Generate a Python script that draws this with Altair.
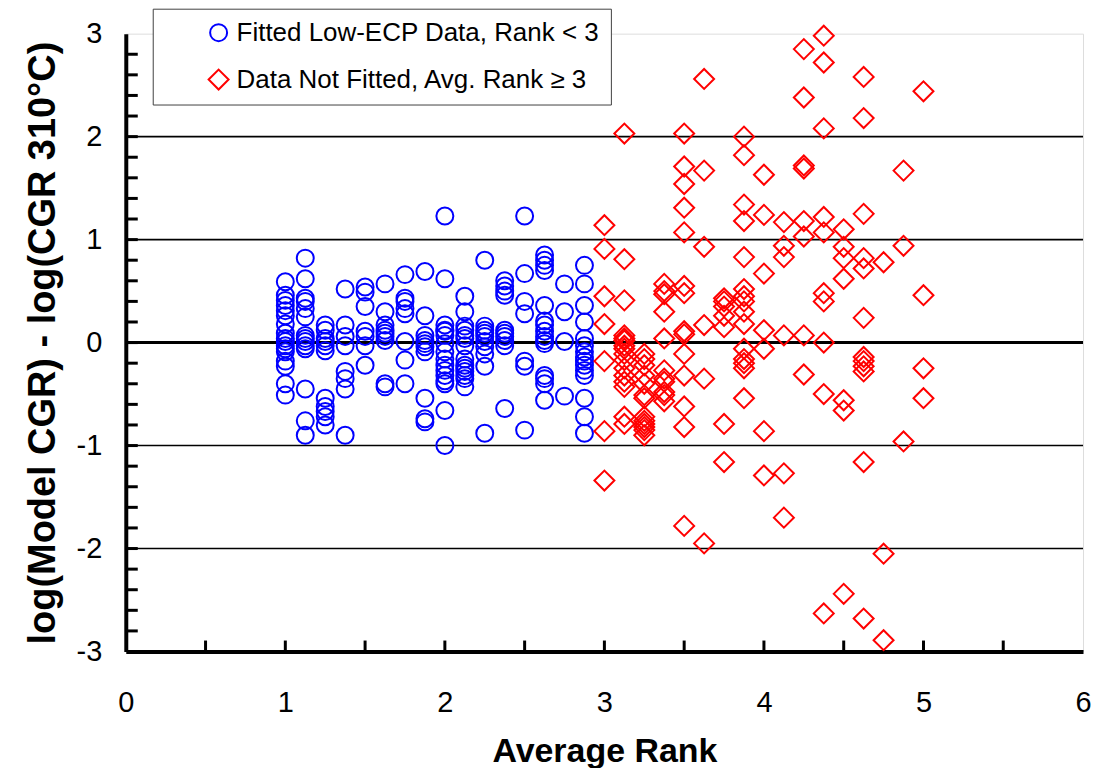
import altair as alt
import pandas as pd

# ---- data ----
blue_ranks = [1.0, 1.125, 1.25, 1.375, 1.5, 1.625, 1.75, 1.875, 2.0, 2.125, 2.25, 2.375, 2.5, 2.625, 2.75, 2.875]
blue_devs = [
    [0.59, 0.46, 0.41, 0.36, 0.31, 0.26, 0.18, 0.09, 0.04, 0.01, -0.03, -0.06, -0.09, -0.18, -0.23, -0.40, -0.51],
    [0.82, 0.62, 0.43, 0.40, 0.33, 0.25, 0.07, 0.04, 0.01, -0.03, -0.06, -0.45, -0.76, -0.90],
    [0.17, 0.12, 0.04, 0.01, -0.03, -0.08, -0.54, -0.62, -0.67, -0.72, -0.80],
    [0.52, 0.17, 0.06, -0.03, -0.28, -0.35, -0.45, -0.90],
    [0.54, 0.49, 0.35, 0.11, 0.06, -0.03, -0.22],
    [0.57, 0.30, 0.17, 0.12, 0.09, 0.06, 0.02, -0.40, -0.43],
    [0.66, 0.43, 0.40, 0.33, 0.28, 0.01, -0.17, -0.40],
    [0.69, 0.26, 0.07, 0.02, -0.01, -0.04, -0.09, -0.54, -0.74, -0.77],
    [1.23, 0.62, 0.17, 0.12, 0.11, 0.07, -0.01, -0.09, -0.16, -0.22, -0.27, -0.32, -0.37, -0.40, -0.66, -1.00],
    [0.45, 0.30, 0.16, 0.12, 0.07, 0.04, -0.03, -0.16, -0.22, -0.25, -0.28, -0.32, -0.35, -0.43],
    [0.80, 0.16, 0.12, 0.09, 0.06, 0.01, -0.04, -0.11, -0.23, -0.88],
    [0.60, 0.55, 0.50, 0.46, 0.12, 0.09, 0.06, 0.02, -0.03, -0.64],
    [1.23, 0.67, 0.40, 0.28, -0.18, -0.23, -0.85],
    [0.85, 0.80, 0.75, 0.70, 0.36, 0.21, 0.17, 0.11, 0.06, 0.02, -0.01, -0.32, -0.35, -0.40, -0.56],
    [0.57, 0.30, 0.01, -0.52],
    [0.75, 0.57, 0.36, 0.20, 0.04, -0.03, -0.09, -0.14, -0.18, -0.22, -0.27, -0.32, -0.54, -0.72, -0.88],
]

red_ranks = [3.0, 3.125, 3.25, 3.375, 3.5, 3.625, 3.75, 3.875, 4.0, 4.125, 4.25, 4.375, 4.5, 4.625, 4.75, 4.875, 5.0]
red_devs = [
    [1.14, 0.91, 0.45, 0.18, -0.18, -0.86, -1.34],
    [2.03, 0.81, 0.41, 0.07, 0.04, 0.02, -0.03, -0.06, -0.11, -0.17, -0.25, -0.32, -0.38, -0.43, -0.72, -0.79],
    [-0.11, -0.16, -0.22, -0.32, -0.40, -0.51, -0.54, -0.72, -0.76, -0.79, -0.82, -0.85, -0.90],
    [0.57, 0.50, 0.47, 0.30, 0.04, -0.27, -0.35, -0.38, -0.48, -0.51, -0.57],
    [2.03, 1.71, 1.54, 1.31, 1.07, 0.55, 0.48, 0.11, 0.08, -0.11, -0.32, -0.62, -0.82, -1.78],
    [2.56, 1.67, 0.93, 0.17, -0.35, -1.95],
    [0.43, 0.40, 0.35, 0.26, 0.15, -0.79, -1.16],
    [2.00, 1.82, 1.34, 1.18, 0.83, 0.52, 0.45, 0.40, 0.30, 0.18, -0.06, -0.16, -0.20, -0.25, -0.54],
    [1.63, 1.24, 0.67, 0.12, -0.06, -0.86, -1.29],
    [1.17, 0.94, 0.83, 0.07, -1.27, -1.70],
    [2.85, 2.38, 1.72, 1.69, 1.18, 1.03, 0.07, -0.31],
    [2.98, 2.72, 2.08, 1.22, 1.07, 0.48, 0.40, 0.00, -0.50, -2.63],
    [1.10, 0.93, 0.82, 0.62, -0.56, -0.66, -2.44],
    [2.58, 2.18, 1.25, 0.82, 0.72, 0.24, -0.14, -0.18, -0.23, -0.28, -1.16, -2.68],
    [0.78, -2.05, -2.89],
    [1.67, 0.94, -0.96],
    [2.44, 0.46, -0.25, -0.54],
]

series_names = ["Fitted Low-ECP Data, Rank < 3", "Data Not Fitted, Avg. Rank \u2265 3"]
x_labels = [0, 1, 2, 3, 4, 5, 6]
y_labels = [-3, -2, -1, 0, 1, 2, 3]
x_minor = [0.5, 1, 1.5, 2, 2.5, 3, 3.5, 4, 4.5, 5, 5.5]
y_minor = [round(-2.8 + 0.2 * i, 1) for i in range(29)]
grid_lines = [-2, -1, 1, 2]

rows = []
for r, devs in zip(blue_ranks, blue_devs):
    for d in devs:
        rows.append({"rank": r, "dev": d, "series": series_names[0]})
for r, devs in zip(red_ranks, red_devs):
    for d in devs:
        rows.append({"rank": r, "dev": d, "series": series_names[1]})
df = pd.DataFrame(rows)

W, H = 959, 619
FONT = "Liberation Sans, Arial, sans-serif"

xscale = alt.Scale(domain=[0, 6], nice=False, zero=False)
yscale = alt.Scale(domain=[-3, 3], nice=False, zero=False)

lab = "toString(round(datum.value))"

grid = alt.Chart(pd.DataFrame({"g": grid_lines})).mark_rule(color="black", strokeWidth=1.6).encode(
    y=alt.Y("g:Q", scale=yscale)
)
zero = alt.Chart(pd.DataFrame({"g": [0]})).mark_rule(color="black", strokeWidth=3).encode(
    y=alt.Y("g:Q", scale=yscale)
)
xticks = alt.Chart(pd.DataFrame({"t": x_minor})).mark_rule(color="black", strokeWidth=3).encode(
    x=alt.X("t:Q", scale=xscale),
    y=alt.value(H),
    y2=alt.value(H - 11),
)
yticks = alt.Chart(pd.DataFrame({"t": y_minor})).mark_rule(color="black", strokeWidth=3).encode(
    y=alt.Y("t:Q", scale=yscale),
    x=alt.value(0),
    x2=alt.value(12),
)

points = alt.Chart(df).mark_point(filled=False, strokeWidth=2, opacity=1).encode(
    x=alt.X(
        "rank:Q",
        scale=xscale,
        title="Average Rank",
        axis=alt.Axis(
            values=x_labels,
            labelExpr=lab,
            labelFlush=False,
            labelOverlap=False,
            ticks=False,
            grid=False,
            domainColor="black",
            domainWidth=4,
            labelFontSize=29,
            labelFont=FONT,
            labelColor="black",
            labelPadding=37,
            titleFont=FONT,
            titleFontSize=34,
            titleFontWeight="bold",
            titleColor="black",
            titlePadding=17,
        ),
    ),
    y=alt.Y(
        "dev:Q",
        scale=yscale,
        title="log(Model CGR) - log(CGR 310\u00b0C)",
        axis=alt.Axis(
            values=y_labels,
            labelExpr=lab,
            labelFlush=False,
            labelOverlap=False,
            ticks=False,
            grid=False,
            domainColor="black",
            domainWidth=4,
            labelFontSize=29,
            labelFont=FONT,
            labelColor="black",
            labelPadding=24,
            titleFont=FONT,
            titleFontSize=38,
            titleFontWeight="bold",
            titleColor="black",
            titlePadding=14,
        ),
    ),
    color=alt.Color(
        "series:N",
        scale=alt.Scale(domain=series_names, range=["#0000FF", "#FF0000"]),
        legend=alt.Legend(
            title=None,
            orient="none",
            legendX=27,
            legendY=-25,
            direction="vertical",
            labelFont=FONT,
            labelFontSize=26,
            labelColor="black",
            labelOffset=5,
            labelLimit=600,
            symbolOffset=42,
            symbolStrokeWidth=2,
            rowPadding=20,
            padding=11,
            strokeColor="#404040",
            fillColor="white",
        ),
    ),
    shape=alt.Shape(
        "series:N",
        scale=alt.Scale(domain=series_names, range=["circle", "diamond"]),
    ),
    size=alt.Size(
        "series:N",
        scale=alt.Scale(domain=series_names, range=[289, 400]),
    ),
)

chart = (
    alt.layer(grid, zero, yticks, xticks, points)
    .properties(
        width=W,
        height=H,
        autosize=alt.AutoSizeParams(type="none"),
        padding={"left": 118, "top": 25, "right": 8, "bottom": 116},
    )
    .configure_view(stroke="black", strokeWidth=3)
    .configure(background="white")
)

chart.save("out.html", embed_options={"renderer": "svg", "actions": False})
